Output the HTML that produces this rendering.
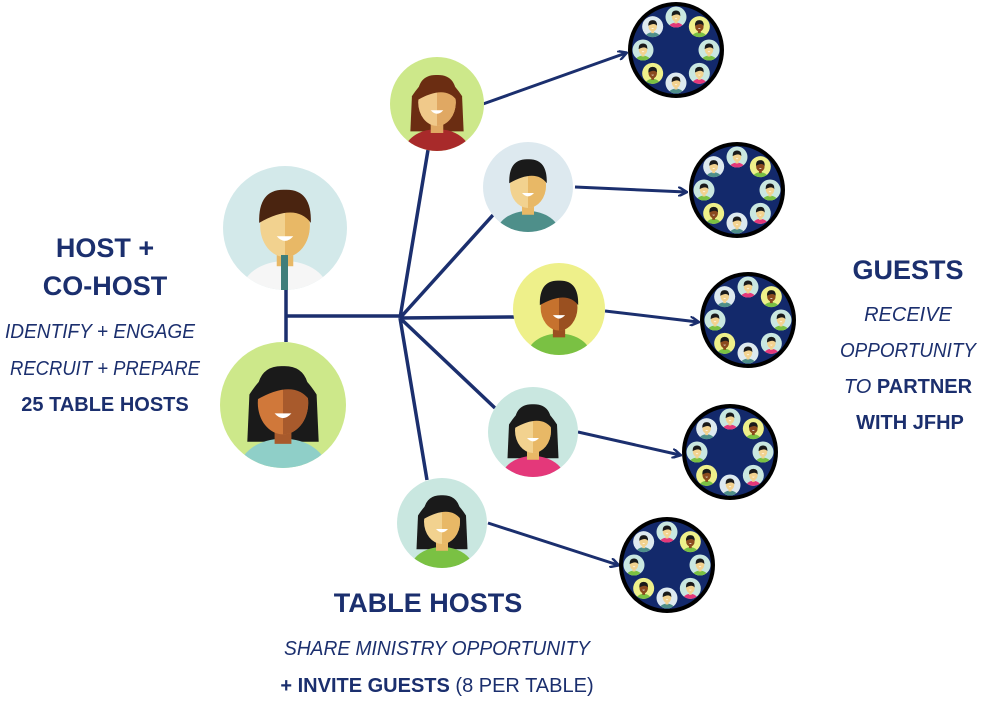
<!DOCTYPE html>
<html><head><meta charset="utf-8"><style>
html,body{margin:0;padding:0;background:#fff;width:981px;height:703px;overflow:hidden}
svg{display:block}
text{font-family:"Liberation Sans",sans-serif;fill:#1b2f6e}
.b{font-weight:bold}
.i{font-style:italic}
</style></head><body>
<svg id="s" width="981" height="703" viewBox="0 0 981 703" xmlns="http://www.w3.org/2000/svg">
<defs>
<marker id="ar" markerWidth="10" markerHeight="10" refX="8" refY="5" orient="auto" markerUnits="userSpaceOnUse"><path d="M0,0 L9,5 L0,10" fill="none" stroke="#1b2f6e" stroke-width="2.5"/></marker>
</defs>
<g stroke="#1b2f6e" stroke-width="3.5" fill="none">
<path d="M286 290 V342 M286 316 H400"/>
<path d="M400 318 L428 150 M400 318 L493 215 M400 318 L515 317 M400 318 L495 408 M400 318 L427 480"/>
</g>
<g stroke="#1b2f6e" stroke-width="3" fill="none" marker-end="url(#ar)">
<path d="M483 104 L626 53"/>
<path d="M575 187 L686 192"/>
<path d="M605 311 L698 322"/>
<path d="M578 432 L680 455"/>
<path d="M488 523 L618 565"/>
</g>
<g id="avs"></g>
<g id="tables"></g>
<g text-anchor="middle">
<text x="105" y="257" font-size="27" class="b">HOST +</text>
<text x="105" y="295" font-size="27" class="b">CO-HOST</text>
<text x="100" y="338" font-size="20" class="i" textLength="190" lengthAdjust="spacingAndGlyphs">IDENTIFY + ENGAGE</text>
<text x="105" y="375" font-size="20" class="i" textLength="190" lengthAdjust="spacingAndGlyphs">RECRUIT + PREPARE</text>
<text x="105" y="411" font-size="20" class="b">25 TABLE HOSTS</text>
<text x="908" y="279" font-size="27" class="b">GUESTS</text>
<text x="908" y="321" font-size="20" class="i">RECEIVE</text>
<text x="908" y="357" font-size="20" class="i" textLength="136" lengthAdjust="spacingAndGlyphs">OPPORTUNITY</text>
<text x="908" y="393" font-size="20"><tspan class="i">TO </tspan><tspan class="b">PARTNER</tspan></text>
<text x="910" y="429" font-size="20" class="b">WITH JFHP</text>
<text x="428" y="612" font-size="27" class="b">TABLE HOSTS</text>
<text x="437" y="655" font-size="20" class="i" textLength="306" lengthAdjust="spacingAndGlyphs">SHARE MINISTRY OPPORTUNITY</text>
<text x="437" y="692" font-size="20"><tspan class="b">+ INVITE GUESTS</tspan> (8 PER TABLE)</text>
</g>
</svg>
<script>
var NS="http://www.w3.org/2000/svg";
function el(p,t,a){var e=document.createElementNS(NS,t);for(var k in a)e.setAttribute(k,a[k]);p.appendChild(e);return e;}
function avatar(p,cx,cy,r,bg,skin,skin2,hair,shirt,longHair){
  var g=el(p,"g",{});
  var id="c"+Math.random().toString(36).slice(2);
  var cp=el(g,"clipPath",{id:id});el(cp,"circle",{cx:cx,cy:cy,r:r});
  el(g,"circle",{cx:cx,cy:cy,r:r,fill:bg});
  var h=el(g,"g",{"clip-path":"url(#"+id+")"});
  var s=r/60;
  if(longHair) el(h,"path",{d:"M"+(cx-32*s)+" "+(cy-10*s)+" Q"+cx+" "+(cy-60*s)+" "+(cx+32*s)+" "+(cy-10*s)+" L"+(cx+34*s)+" "+(cy+35*s)+" L"+(cx-34*s)+" "+(cy+35*s)+"Z",fill:hair});
  el(h,"ellipse",{cx:cx,cy:cy+62*s,rx:42*s,ry:30*s,fill:shirt});
  el(h,"rect",{x:cx-8*s,y:cy+15*s,width:16*s,height:22*s,fill:skin2});
  el(h,"ellipse",{cx:cx,cy:cy-2*s,rx:24*s,ry:30*s,fill:skin});
  el(h,"path",{d:"M"+cx+" "+(cy-32*s)+" A"+(24*s)+" "+(30*s)+" 0 0 1 "+cx+" "+(cy+28*s)+"Z",fill:skin2});
  el(h,"path",{d:"M"+(cx-25*s)+" "+(cy-5*s)+" Q"+(cx-26*s)+" "+(cy-38*s)+" "+cx+" "+(cy-37*s)+" Q"+(cx+26*s)+" "+(cy-38*s)+" "+(cx+25*s)+" "+(cy-5*s)+" Q"+(cx+10*s)+" "+(cy-25*s)+" "+(cx-25*s)+" "+(cy-5*s)+"Z",fill:hair});
  el(h,"path",{d:"M"+(cx-8*s)+" "+(cy+8*s)+" Q"+cx+" "+(cy+17*s)+" "+(cx+8*s)+" "+(cy+8*s)+"Z",fill:"#fff"});
}
var A=document.getElementById("avs");
avatar(A,285,228,62,"#d3e9ea","#f2d28f","#e8b866","#4a2410","#f6f6f6");
el(A,"rect",{x:281,y:255,width:7,height:35,fill:"#3f7e7a"});
avatar(A,283,405,63,"#cde88a","#d0783a","#a85a2c","#1a1a1a","#8fcfc8",true);
avatar(A,437,104,47,"#cde88a","#f0c98a","#e0a863","#6b2d12","#a82a2a",true);
avatar(A,528,187,45,"#dde9ef","#f2d28f","#e8b866","#1a1a1a","#4e8f8a");
avatar(A,559,309,46,"#eef08a","#c6722e","#9a5020","#1a1a1a","#7ac143");
avatar(A,533,432,45,"#c9e7e0","#f2d28f","#e8b866","#1a1a1a","#e4387a",true);
avatar(A,442,523,45,"#c9e7e0","#f2d28f","#e8b866","#1a1a1a","#7ac143",true);
var T=document.getElementById("tables");
var tabs=[[676,50],[737,190],[748,320],[730,452],[667,565]];
var small=[["#c9e7e0","#f2d28f","#e4387a"],["#eef08a","#8a4a1e","#7ac143"],["#c9e7e0","#f2d28f","#7ac143"],["#c9e7e0","#f2d28f","#e4387a"],["#dde9ef","#f2d28f","#4e8f8a"],["#eef08a","#8a4a1e","#7ac143"],["#c9e7e0","#f2d28f","#7ac143"],["#dde9ef","#f2d28f","#4e8f8a"]];
tabs.forEach(function(t){
  el(T,"circle",{cx:t[0],cy:t[1],r:46,fill:"#13296b",stroke:"#000","stroke-width":4});
  for(var i=0;i<8;i++){
    var a=-Math.PI/2+i*Math.PI/4, x=t[0]+33*Math.cos(a), y=t[1]+33*Math.sin(a), c=small[i];
    avatar(T,x,y,10.5,c[0],c[1],c[1],"#1a1a1a",c[2]);
  }
});
</script>
</body></html>
